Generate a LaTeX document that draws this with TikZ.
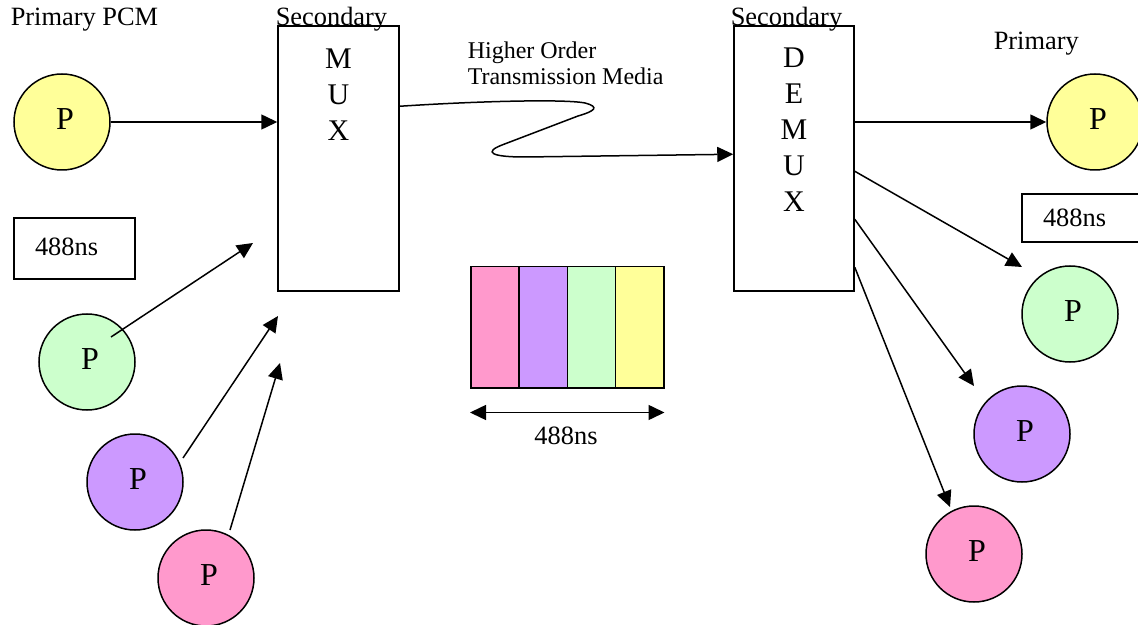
\documentclass[tikz,border=0pt]{standalone}
\usepackage{fontspec}
\setmainfont{Liberation Serif}
\usetikzlibrary{arrows.meta,positioning,calc}

\definecolor{pcmyellow}{HTML}{FFFF99}
\definecolor{pcmgreen}{HTML}{CCFFCC}
\definecolor{pcmpurple}{HTML}{CC99FF}
\definecolor{pcmpink}{HTML}{FF99CC}

% channel letter, set a little right of and above the circle centre
\newcommand{\chantag}{\hspace{3pt}\raisebox{2.5pt}{P}}

\begin{document}
\begin{tikzpicture}[x=0.5pt,y=-0.5pt,line width=0.75pt,
    >={Triangle[length=8pt,width=7.5pt]},
    chan/.style={circle,draw,minimum size=48pt,inner sep=0pt,font=\fontsize{16}{18}\selectfont},
    muxbox/.style={draw,minimum height=132.5pt,inner sep=0pt},
    letters/.style={align=center,inner sep=0pt,font=\fontsize{15}{18}\selectfont},
    txt/.style={inner sep=0pt,font=\fontsize{13.2}{15}\selectfont},
    tbox/.style={draw,font=\fontsize{13.2}{15}\selectfont,text width=39.5pt,inner xsep=10.5pt,inner ysep=0pt,align=left},
    slotbox/.style={draw,minimum width=24.125pt,minimum height=60.5pt,inner sep=0pt}]
  \useasboundingbox (0,0) rectangle (1138,625);

  % headings
  \node[txt,anchor=base west] (prim) at (10,26) {Primary PCM};
  \node[txt,anchor=base west] (prim2) at (993,50) {Primary};
  \node[anchor=north west,inner sep=0pt,align=left,font=\fontsize{12}{13}\selectfont] (media) at (467,41) {Higher Order\\Transmission Media};

  % multiplexer and demultiplexer
  \node[muxbox,minimum width=60.5pt] (mux) at (338.5,158.5) {};
  \node[letters,below=11.5pt of mux.north] (muxtxt) {M\\U\\X};
  \node[muxbox,minimum width=60pt] (demux) at (794,158.5) {};
  \node[letters,below=11pt of demux.north] (demuxtxt) {D\\E\\M\\U\\X};
  \node[txt,anchor=base west] (sec1) at (275,26) {Secondary};
  \node[txt,anchor=base west] (sec2) at (730,26) {Secondary};

  % primary channels in
  \node[chan,fill=pcmyellow] (yl) at (62,122) {\chantag};
  \node[chan,fill=pcmgreen] (gl) at (87,362) {\chantag};
  \node[chan,fill=pcmpurple] (vl) at (135,482) {\chantag};
  \node[chan,fill=pcmpink] (kl) at (206,578) {\chantag};

  % primary channels out
  \node[chan,fill=pcmyellow] (yr) at (1095,122) {\chantag};
  \node[chan,fill=pcmgreen] (gr) at (1070,314) {\chantag};
  \node[chan,fill=pcmpurple] (vr) at (1022,434) {\chantag};
  \node[chan,fill=pcmpink] (kr) at (974,554) {\chantag};

  % frame period boxes
  \node[tbox,minimum height=30.5pt] (tl) at (74.5,248.5) {\raisebox{1.5pt}{488ns}};
  \node[tbox,minimum height=24pt] (tr) at (1082.5,218) {488ns};

  % inputs to the mux
  \coordinate (in1) at (253,243);
  \coordinate (in2) at (278,316);
  \coordinate (in3) at (280,363);
  \draw[->] (yl) -- (yl -| mux.west);
  \draw[->] ($(gl)+(24,-25)$) -- (in1);
  \draw[->] ($(vl)+(48,-24)$) -- (in2);
  \draw[->] ($(kl)+(24,-48)$) -- (in3);

  % higher order link
  \coordinate (muxout) at ($(mux.north east)+(0,81)$);
  \coordinate (demuxin) at ($(demux.north west)+(0,129)$);
  \draw[->] (muxout) .. controls (480,101) and (565,99) .. (585,103)
    .. controls (600,107) and (595,111) .. (578,116) -- (502,145)
    .. controls (484,152) and (490,157) .. (525,157) -- (demuxin);

  % outputs of the demux
  \draw[->] (demux.east |- yr) -- (yr);
  \draw[->] ($(demux.north east)+(0,146)$) -- ($(gr)+(-48,-47)$);
  \draw[->] ($(demux.north east)+(0,194)$) -- ($(vr)+(-48,-48)$);
  \draw[->] ($(demux.north east)+(0,242)$) -- ($(kr)+(-24,-47)$);

  % one frame of four slots
  \foreach \c [count=\i from 0] in {pcmpink,pcmpurple,pcmgreen,pcmyellow}
    \node[slotbox,fill=\c,anchor=north west] (slot\i) at (470+48.25*\i,266) {};
  \draw[<->] ($(slot0.south west)+(0,24)$) -- ($(slot3.south east)+(0,24)$);
  \node[txt] (span) at (566,436) {488ns};
\end{tikzpicture}
\end{document}
